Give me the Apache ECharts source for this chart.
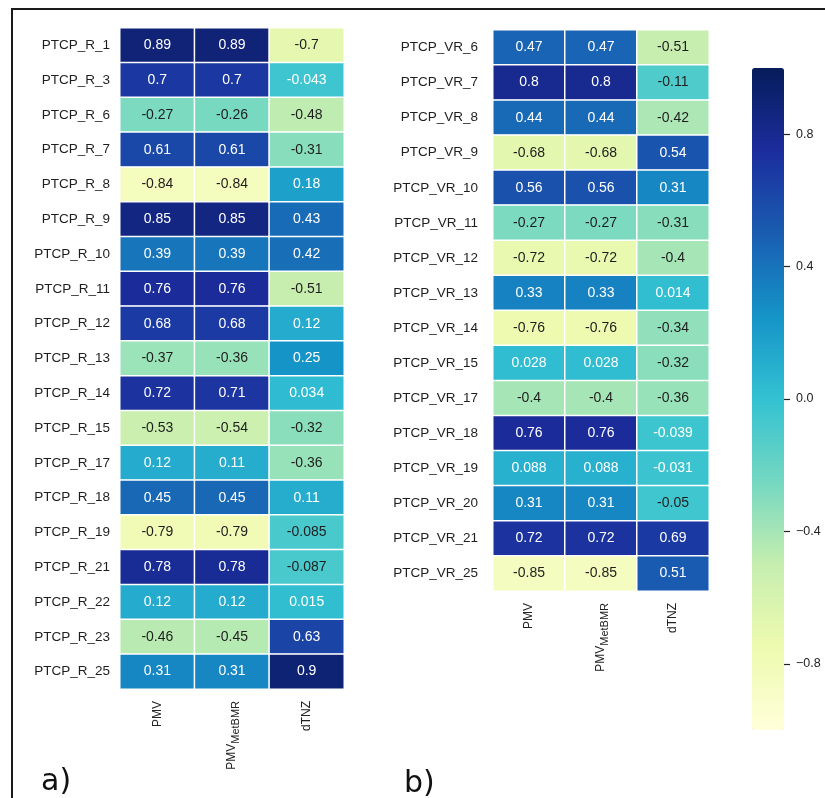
<!DOCTYPE html>
<html><head><meta charset="utf-8">
<script src="https://cdn.jsdelivr.net/npm/echarts@6/dist/echarts.min.js"></script>
<style>html,body{margin:0;padding:0;background:#fff}#c{width:825px;height:798px}</style>
</head><body><div id="c"></div>
<script>
const columns = ['PMV', 'PMV_MetBMR', 'dTNZ'];

const rowsA = ['PTCP_R_1','PTCP_R_3','PTCP_R_6','PTCP_R_7','PTCP_R_8','PTCP_R_9','PTCP_R_10','PTCP_R_11','PTCP_R_12','PTCP_R_13','PTCP_R_14','PTCP_R_15','PTCP_R_17','PTCP_R_18','PTCP_R_19','PTCP_R_21','PTCP_R_22','PTCP_R_23','PTCP_R_25'];
const pmvA    = [0.89, 0.7, -0.27, 0.61, -0.84, 0.85, 0.39, 0.76, 0.68, -0.37, 0.72, -0.53, 0.12, 0.45, -0.79, 0.78, 0.12, -0.46, 0.31];
const pmvMetA = [0.89, 0.7, -0.26, 0.61, -0.84, 0.85, 0.39, 0.76, 0.68, -0.36, 0.71, -0.54, 0.11, 0.45, -0.79, 0.78, 0.12, -0.45, 0.31];
const dtnzA   = [-0.7, -0.043, -0.48, -0.31, 0.18, 0.43, 0.42, -0.51, 0.12, 0.25, 0.034, -0.32, -0.36, 0.11, -0.085, -0.087, 0.015, 0.63, 0.9];

const rowsB = ['PTCP_VR_6','PTCP_VR_7','PTCP_VR_8','PTCP_VR_9','PTCP_VR_10','PTCP_VR_11','PTCP_VR_12','PTCP_VR_13','PTCP_VR_14','PTCP_VR_15','PTCP_VR_17','PTCP_VR_18','PTCP_VR_19','PTCP_VR_20','PTCP_VR_21','PTCP_VR_25'];
const pmvB    = [0.47, 0.8, 0.44, -0.68, 0.56, -0.27, -0.72, 0.33, -0.76, 0.028, -0.4, 0.76, 0.088, 0.31, 0.72, -0.85];
const pmvMetB = [0.47, 0.8, 0.44, -0.68, 0.56, -0.27, -0.72, 0.33, -0.76, 0.028, -0.4, 0.76, 0.088, 0.31, 0.72, -0.85];
const dtnzB   = [-0.51, -0.11, -0.42, 0.54, 0.31, -0.31, -0.4, 0.014, -0.34, -0.32, -0.36, -0.039, -0.031, -0.05, 0.69, 0.51];

const colorbarTicks = [-0.8, -0.4, 0.0, 0.4, 0.8];

const ylgnbu = ['#ffffd9','#edf8b1','#c7e9b4','#7fcdbb','#41b6c4','#1d91c0','#225ea8','#253494','#081d58'];

function hex(h){return [parseInt(h.substr(1,2),16),parseInt(h.substr(3,2),16),parseInt(h.substr(5,2),16)];}
function toHex(rgb){return '#' + rgb.map(c => Math.round(Math.max(0, Math.min(255, c))).toString(16).padStart(2, '0')).join('');}
// the reference picture is slightly over-saturated: boost palette saturation (more for muted tones)
function saturate(h, p){
  let [r, g, b] = hex(h).map(x => x / 255);
  const mx = Math.max(r, g, b), mn = Math.min(r, g, b), L = (mx + mn) / 2, d = mx - mn;
  if (d === 0) return h;
  const S = L > 0.5 ? d / (2 - mx - mn) : d / (mx + mn);
  const S2 = Math.min(1, Math.pow(S, p));
  const d2 = L > 0.5 ? S2 * (2 - 2 * L) : S2 * 2 * L;
  const mn2 = L - d2 / 2;
  return toHex([r, g, b].map(c => (mn2 + (c - mn) / d * d2) * 255));
}
const palette = ylgnbu.map(c => saturate(c, 0.7));

function cmap(v){
  let t = (v + 1) / 2; t = Math.max(0, Math.min(1, t));
  const n = ylgnbu.length - 1;
  const i = Math.min(n - 1, Math.floor(t * n));
  const f = t * n - i;
  const a = hex(ylgnbu[i]), b = hex(ylgnbu[i+1]);
  return a.map((c, k) => c + (b[k] - c) * f);
}
function lum(rgb){
  const c = rgb.map(x => { x /= 255; return x <= 0.03928 ? x / 12.92 : Math.pow((x + 0.055) / 1.055, 2.4); });
  return 0.2126*c[0] + 0.7152*c[1] + 0.0722*c[2];
}
function build(cols){
  const out = [];
  cols.forEach((arr, ci) => arr.forEach((v, ri) => {
    out.push({ value: [ci, ri, v], label: { color: lum(cmap(v)) > 0.408 ? '#1e1e1e' : '#ffffff' } });
  }));
  return out;
}

const FONT = '"Liberation Sans", Arial, sans-serif';
const xLabel = {
  rotate: 90, margin: 12, color: '#222', fontFamily: FONT, fontSize: 12,
  formatter: v => v === 'PMV_MetBMR' ? 'PMV{sub|MetBMR}' : v,
  rich: { sub: { fontSize: 11, fontFamily: FONT, color: '#222', verticalAlign: 'bottom', padding: [7, 0, 0, 0] } }
};
const yLabel = (m) => ({ margin: m, color: '#1e1e1e', fontFamily: FONT, fontSize: 13.5 });

const chart = echarts.init(document.getElementById('c'), null, { renderer: 'canvas' });
chart.setOption({
  backgroundColor: '#fff',
  animation: false,
  grid: [
    { left: 120, top: 28, width: 224, height: 661 },
    { left: 493, top: 30, width: 216, height: 561 },
    { left: 784, top: 68, width: 20, height: 662 }
  ],
  xAxis: [
    { type: 'category', data: columns, gridIndex: 0, position: 'bottom', axisLine: { show: false }, axisTick: { show: false }, splitLine: { show: false }, axisLabel: xLabel },
    { type: 'category', data: columns, gridIndex: 1, position: 'bottom', axisLine: { show: false }, axisTick: { show: false }, splitLine: { show: false }, axisLabel: xLabel },
    { type: 'value', gridIndex: 2, show: false, min: 0, max: 1 }
  ],
  yAxis: [
    { type: 'category', data: rowsA, gridIndex: 0, inverse: true, axisLine: { show: false }, axisTick: { show: false }, splitLine: { show: false }, axisLabel: yLabel(10) },
    { type: 'category', data: rowsB, gridIndex: 1, inverse: true, axisLine: { show: false }, axisTick: { show: false }, splitLine: { show: false }, axisLabel: yLabel(15) },
    { type: 'value', gridIndex: 2, position: 'left', min: -1, max: 1, z: 10,
      axisLine: { show: false }, splitLine: { show: false },
      axisTick: { show: true, inside: true, length: 6, lineStyle: { color: '#222', width: 1.2 }, customValues: colorbarTicks },
      axisLabel: { show: true, inside: true, margin: 12, color: '#222', fontFamily: FONT, fontSize: 12.5, customValues: colorbarTicks,
        formatter: v => (v < 0 ? '\u2212' : '') + Math.abs(v).toFixed(1) } }
  ],
  visualMap: {
    type: 'continuous', min: -1, max: 1, seriesIndex: [0, 1], calculable: false,
    orient: 'vertical', left: 752, top: 68, itemWidth: 32, itemHeight: 662, padding: 0,
    inRange: { color: palette }
  },
  series: [
    { type: 'heatmap', xAxisIndex: 0, yAxisIndex: 0, data: build([pmvA, pmvMetA, dtnzA]),
      itemStyle: { borderColor: '#ffffff', borderWidth: 1.5 },
      label: { show: true, fontFamily: FONT, fontSize: 14, formatter: p => String(p.value[2]) },
      emphasis: { disabled: true } },
    { type: 'heatmap', xAxisIndex: 1, yAxisIndex: 1, data: build([pmvB, pmvMetB, dtnzB]),
      itemStyle: { borderColor: '#ffffff', borderWidth: 1.5 },
      label: { show: true, fontFamily: FONT, fontSize: 14, formatter: p => String(p.value[2]) },
      emphasis: { disabled: true } }
  ],
  graphic: [
    { type: 'rect', shape: { x: 12, y: 9, width: 830, height: 800 }, style: { fill: 'none', stroke: '#1a1a1a', lineWidth: 2 }, silent: true },
    { type: 'text', left: 41, top: 767, style: { text: 'a)', font: '30px "DejaVu Sans", sans-serif', fill: '#111' } },
    { type: 'text', left: 404, top: 769, style: { text: 'b)', font: '30px "DejaVu Sans", sans-serif', fill: '#111' } }
  ]
});
</script>
</body></html>
